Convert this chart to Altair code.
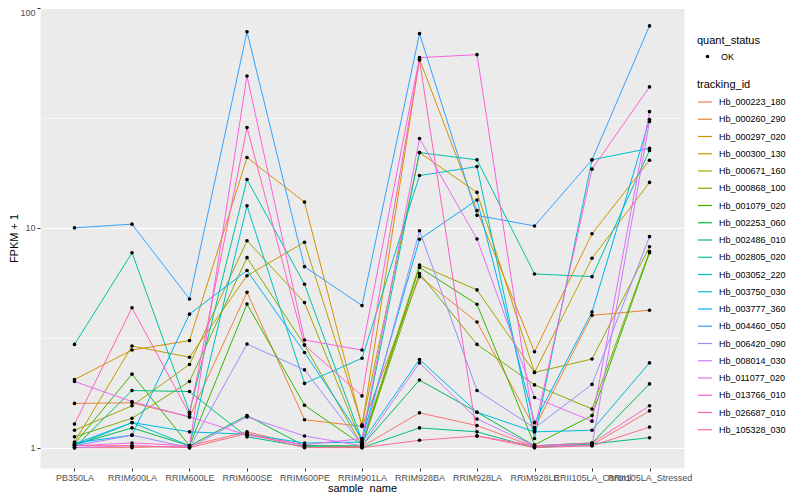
import altair as alt
import pandas as pd

samples = ["PB350LA", "RRIM600LA", "RRIM600LE", "RRIM600SE", "RRIM600PE", "RRIM901LA",
           "RRIM928BA", "RRIM928LA", "RRIM928LE", "RRII105LA_Control", "RRII105LA_Stressed"]

tracking_ids = ["Hb_000223_180", "Hb_000260_290", "Hb_000297_020", "Hb_000300_130", "Hb_000671_160",
                "Hb_000868_100", "Hb_001079_020", "Hb_002253_060", "Hb_002486_010", "Hb_002805_020",
                "Hb_003052_220", "Hb_003750_030", "Hb_003777_360", "Hb_004460_050", "Hb_006420_090",
                "Hb_008014_030", "Hb_011077_020", "Hb_013766_010", "Hb_026687_010", "Hb_105328_030"]

# FPKM + 1 per sample (order of `samples`)
hb_000223_180 = [1.00, 1.00, 1.02, 1.18, 1.02, 1.01, 1.44, 1.26, 1.01, 1.03, 1.47]
hb_000260_290 = [1.59, 1.60, 1.38, 5.09, 1.34, 1.25, 6.00, 3.73, 1.23, 4.00, 4.22]
hb_000297_020 = [2.04, 2.78, 3.07, 20.9, 13.1, 1.25, 58.5, 12.0, 2.73, 9.40, 20.3]
hb_000300_130 = [1.06, 2.90, 2.58, 6.06, 8.60, 1.27, 22.0, 14.5, 2.20, 7.27, 16.1]
hb_000671_160 = [1.20, 1.55, 2.39, 8.74, 4.57, 1.05, 6.78, 5.22, 2.20, 2.53, 8.20]
hb_000868_100 = [1.12, 1.36, 2.00, 7.32, 2.93, 1.02, 6.20, 2.95, 1.93, 1.50, 7.80]
hb_001079_020 = [1.04, 2.16, 1.02, 4.50, 1.56, 1.03, 6.60, 4.49, 1.03, 1.40, 7.70]
hb_002253_060 = [1.03, 1.23, 1.02, 1.40, 1.02, 1.02, 2.03, 1.45, 1.02, 1.05, 1.95]
hb_002486_010 = [1.00, 1.82, 1.80, 1.12, 1.01, 1.00, 1.23, 1.18, 1.00, 1.04, 1.11]
hb_002805_020 = [2.95, 7.71, 1.45, 16.6, 5.54, 1.08, 22.0, 20.4, 6.17, 6.00, 22.5]
hb_003052_220 = [1.02, 1.30, 1.02, 12.6, 1.96, 2.55, 17.3, 19.0, 1.10, 20.4, 23.0]
hb_003750_030 = [1.04, 1.30, 1.18, 1.15, 1.05, 1.06, 2.52, 1.45, 1.18, 1.20, 2.43]
hb_003777_360 = [1.05, 1.14, 4.05, 6.40, 2.71, 1.10, 8.87, 13.4, 1.30, 4.14, 31.1]
hb_004460_050 = [10.0, 10.4, 4.75, 78.0, 6.66, 4.43, 76.5, 11.4, 10.2, 20.4, 83.0]
hb_006420_090 = [1.02, 1.14, 1.00, 2.96, 2.26, 1.03, 9.70, 1.82, 1.23, 1.94, 9.12]
hb_008014_030 = [1.00, 1.02, 1.00, 1.38, 1.13, 1.02, 2.43, 1.35, 1.02, 1.02, 30.5]
hb_011077_020 = [2.00, 1.62, 1.38, 1.14, 1.03, 1.10, 25.5, 8.90, 1.69, 1.32, 33.8]
hb_013766_010 = [1.02, 1.05, 1.02, 49.1, 3.09, 2.78, 59.5, 61.4, 1.20, 18.5, 43.8]
hb_026687_010 = [1.28, 4.33, 1.42, 28.6, 2.93, 1.72, 58.0, 1.13, 1.02, 1.05, 1.55]
hb_105328_030 = [1.02, 1.02, 1.00, 1.16, 1.00, 1.00, 1.08, 1.13, 1.00, 1.02, 1.24]

series_values = [hb_000223_180, hb_000260_290, hb_000297_020, hb_000300_130, hb_000671_160,
                 hb_000868_100, hb_001079_020, hb_002253_060, hb_002486_010, hb_002805_020,
                 hb_003052_220, hb_003750_030, hb_003777_360, hb_004460_050, hb_006420_090,
                 hb_008014_030, hb_011077_020, hb_013766_010, hb_026687_010, hb_105328_030]

palette = ["#F8766D", "#EA8331", "#D89000", "#C09B00", "#A3A500", "#7CAE00", "#39B600", "#00BB4E",
           "#00BF7D", "#00C1A3", "#00BFC4", "#00BAE0", "#00B0F6", "#35A2FF", "#9590FF", "#C77CFF",
           "#E76BF3", "#FA62DB", "#FF62BC", "#FF6C90"]

rows = []
for tid, vals in zip(tracking_ids, series_values):
    for s, v in zip(samples, vals):
        rows.append({"tracking_id": tid, "sample_name": s, "fpkm1": v, "quant_status": "OK"})
df = pd.DataFrame(rows)

FONT = "Liberation Sans"
major = "datum.value == 1 || datum.value == 10 || datum.value == 100"

x_enc = alt.X(
    "sample_name:N", sort=samples, title="sample_name",
    scale=alt.Scale(type="point", padding=0.6),
    axis=alt.Axis(labelAngle=0, labelOverlap=False, labelBound=False, domain=False,
                  tickSize=3, tickColor="#333333", labelPadding=2, labelColor="#4D4D4D",
                  labelFontSize=9, labelFont=FONT, labelBaseline="top",
                  gridColor="white", gridWidth=1.1,
                  titleFont=FONT, titleFontSize=11, titleFontWeight="normal", titleColor="black",
                  titleY=20, titleBaseline="middle"),
)
y_enc = alt.Y(
    "fpkm1:Q", title="FPKM + 1",
    scale=alt.Scale(type="log", domain=[0.808, 100.1], nice=False),
    axis=alt.Axis(values=[1, 3.1623, 10, 31.623, 100], domain=False, labelFlush=2,
                  labelExpr="datum.value == 1 ? '1' : datum.value == 10 ? '10' : datum.value == 100 ? '100' : ''",
                  tickSize=3, tickColor="#333333",
                  tickOpacity={"condition": {"test": major, "value": 1}, "value": 0},
                  gridWidth={"condition": {"test": major, "value": 1.1}, "value": 0.55},
                  gridColor="white", labelPadding=2, labelColor="#4D4D4D",
                  labelFontSize=9, labelFont=FONT,
                  titleFont=FONT, titleFontSize=11, titleFontWeight="normal", titleColor="black",
                  titleX=-26, titleY=230, titleAlign="center", titleBaseline="middle", titleAngle=-90),
)

lines = alt.Chart(df).mark_line(strokeWidth=1).encode(
    x=x_enc, y=y_enc,
    color=alt.Color("tracking_id:N", sort=tracking_ids,
                    scale=alt.Scale(domain=tracking_ids, range=palette),
                    legend=alt.Legend(title="tracking_id", orient="none", legendX=657, legendY=71,
                                      symbolType="stroke", symbolSize=196, symbolStrokeWidth=1.2,
                                      labelFontSize=9, labelFont=FONT, labelColor="black",
                                      titleFontSize=11, titleFont=FONT, titleFontWeight="normal",
                                      titleColor="black", titlePadding=4, rowPadding=4.25,
                                      labelOffset=6)),
)

points = alt.Chart(df).mark_circle(size=13, opacity=1).encode(
    x=x_enc, y=y_enc,
    fill=alt.Fill("quant_status:N", scale=alt.Scale(range=["black"]),
                  legend=alt.Legend(title="quant_status", orient="none", legendX=657, legendY=27,
                                    symbolSize=13, symbolOffset=6, labelFontSize=9, labelFont=FONT,
                                    labelColor="black", titleFontSize=11, titleFont=FONT,
                                    titleFontWeight="normal", titleColor="black", titlePadding=6,
                                    labelOffset=9)),
)

chart = alt.layer(lines, points).properties(
    width=644, height=460,
    autosize=alt.AutoSizeParams(type="none"),
    padding={"left": 32, "top": 0, "right": 108, "bottom": 24},
).configure_view(fill="#EBEBEB", stroke="transparent")

chart.save("out.html", embed_options={"renderer": "svg", "actions": False})
